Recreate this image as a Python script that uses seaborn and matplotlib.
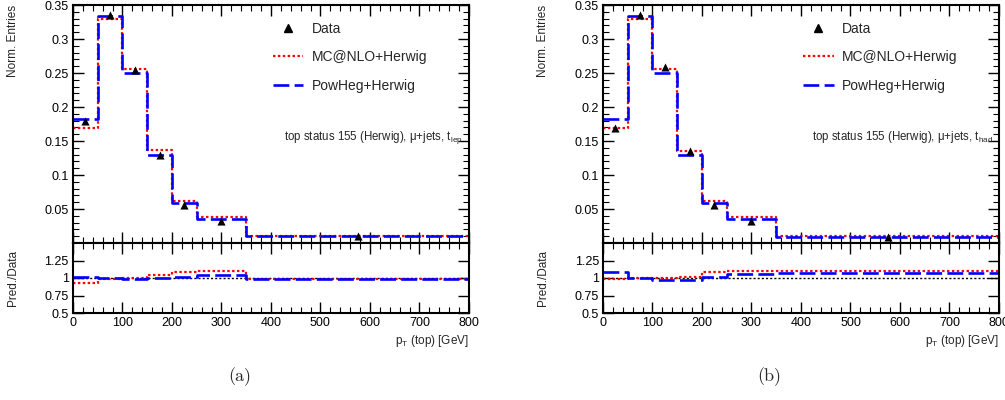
import matplotlib
matplotlib.use("Agg")
import matplotlib.pyplot as plt
from matplotlib.lines import Line2D
from matplotlib.ticker import MultipleLocator, FixedLocator, NullLocator
import seaborn as sns
import pandas as pd

sns.set_theme(style="ticks")
plt.rcParams['font.family'] = ['Liberation Sans', 'DejaVu Sans']
plt.rcParams['mathtext.fontset'] = 'custom'
plt.rcParams['mathtext.rm'] = 'Liberation Sans'
plt.rcParams['mathtext.it'] = 'Liberation Sans:italic'

# bins of top pT [GeV]
bin_edges = [0, 50, 100, 150, 200, 250, 350, 800]
bin_centers = [25, 75, 125, 175, 225, 300, 575]

# (a) leptonic top
lep_data = [0.180, 0.335, 0.254, 0.129, 0.056, 0.033, 0.0100]
lep_mcnlo = [0.169, 0.330, 0.256, 0.137, 0.062, 0.038, 0.0100]
lep_powheg = [0.183, 0.334, 0.250, 0.130, 0.059, 0.036, 0.0098]
lep_ratio_mcnlo = [0.93, 0.99, 1.00, 1.05, 1.08, 1.10, 0.99]
lep_ratio_powheg = [1.02, 1.00, 0.985, 1.00, 1.02, 1.05, 0.98]

# (b) hadronic top
had_data = [0.169, 0.335, 0.259, 0.135, 0.056, 0.033, 0.0090]
had_mcnlo = [0.169, 0.330, 0.256, 0.136, 0.062, 0.038, 0.0098]
had_powheg = [0.183, 0.334, 0.250, 0.130, 0.059, 0.036, 0.0095]
had_ratio_mcnlo = [0.99, 1.00, 1.00, 1.015, 1.09, 1.10, 1.10]
had_ratio_powheg = [1.08, 1.00, 0.965, 0.965, 1.02, 1.055, 1.07]

ratio_ticks = [0.5, 0.75, 1.0, 1.25]
ratio_tick_labels = ["0.5", "0.75", "1", "1.25"]
main_ticks = [0.05, 0.1, 0.15, 0.2, 0.25, 0.3, 0.35]
main_tick_labels = ["0.05", "0.1", "0.15", "0.2", "0.25", "0.3", "0.35"]

RED = "#ff0000"
BLUE = "#0000ff"
red_style = dict(color=RED, linewidth=1.6, linestyle=(0, (1.1, 1.1)))
blue_style = dict(color=BLUE, linewidth=1.9, linestyle=(0, (6, 2)))


def step(ax, values, **kw):
    df = pd.DataFrame({"pt": bin_edges, "y": list(values) + [values[-1]]})
    sns.lineplot(data=df, x="pt", y="y", ax=ax, drawstyle="steps-post",
                 estimator=None, sort=False, **kw)


def style_axis(ax):
    for s in ax.spines.values():
        s.set_linewidth(1.5)
        s.set_color("black")
    ax.tick_params(which="both", direction="in", top=True, right=True,
                   colors="black", labelsize=9, pad=3)
    ax.tick_params(which="major", length=8, width=1.0)
    ax.tick_params(which="minor", length=4, width=0.8)
    ax.set_xlim(0, 800)
    ax.xaxis.set_major_locator(MultipleLocator(100))
    ax.xaxis.set_minor_locator(MultipleLocator(20))
    ax.set_xlabel("")
    ax.set_ylabel("")


fig = plt.figure(figsize=(10.05, 4.0), dpi=100)

panels = [
    (0.0726, lep_data, lep_mcnlo, lep_powheg, lep_ratio_mcnlo, lep_ratio_powheg, "lep", "(a)"),
    (0.600, had_data, had_mcnlo, had_powheg, had_ratio_mcnlo, had_ratio_powheg, "had", "(b)"),
]

for x0, data, mcnlo, powheg, r_mc, r_pw, tag, caption in panels:
    w = 0.394
    ax = fig.add_axes([x0, 0.3925, w, 0.595])
    axr = fig.add_axes([x0, 0.2175, w, 0.175])

    # main panel
    step(ax, mcnlo, **red_style)
    step(ax, powheg, **blue_style)
    sns.scatterplot(x=bin_centers, y=data, ax=ax, marker="^", color="black",
                    s=34, edgecolor="black", linewidth=0, zorder=5)
    style_axis(ax)
    ax.set_ylim(0, 0.35)
    ax.yaxis.set_major_locator(FixedLocator(main_ticks))
    ax.set_yticklabels(main_tick_labels)
    ax.yaxis.set_minor_locator(MultipleLocator(0.01))
    ax.tick_params(labelbottom=False)

    handles = [
        Line2D([], [], marker="^", linestyle="none", color="black", markersize=5.5),
        Line2D([], [], **red_style),
        Line2D([], [], **blue_style),
    ]
    ax.legend(handles, ["Data", "MC@NLO+Herwig", "PowHeg+Herwig"],
              loc="upper left", bbox_to_anchor=(0.505, 0.93), frameon=False,
              fontsize=10, handlelength=2.2, handletextpad=0.6,
              labelspacing=1.05, borderpad=0, borderaxespad=0)
    ax.text(0.985, 0.445,
            "top status 155 (Herwig), μ+jets, t$_{\\mathrm{%s}}$" % tag,
            transform=ax.transAxes, ha="right", va="center", fontsize=8.3)

    # ratio panel
    axr.axhline(1.0, color="black", linewidth=1.0, linestyle=(0, (1.5, 1.5)))
    step(axr, r_mc, **red_style)
    step(axr, r_pw, **blue_style)
    style_axis(axr)
    axr.set_ylim(0.5, 1.5)
    axr.yaxis.set_major_locator(FixedLocator(ratio_ticks))
    axr.set_yticklabels(ratio_tick_labels)
    axr.yaxis.set_minor_locator(NullLocator())
    axr.set_xticks([0, 100, 200, 300, 400, 500, 600, 700, 800])

    axr.text(1.0, -0.28, "p$_{\\mathrm{T}}$ (top) [GeV]", transform=axr.transAxes,
             ha="right", va="top", fontsize=8.5)

    ylab_x = x0 - 0.0596
    fig.text(ylab_x, 0.9875, "Norm. Entries", rotation=90, ha="center",
             va="top", fontsize=8.5)
    fig.text(ylab_x, 1 - 250 / 400, "Pred./Data", rotation=90, ha="center",
             va="top", fontsize=8.5)

    fig.text(x0 + w * 0.42, 1 - 377 / 400, caption, family="cmr10",
             ha="center", va="center", fontsize=13)

fig.savefig("out.png", dpi=100)
